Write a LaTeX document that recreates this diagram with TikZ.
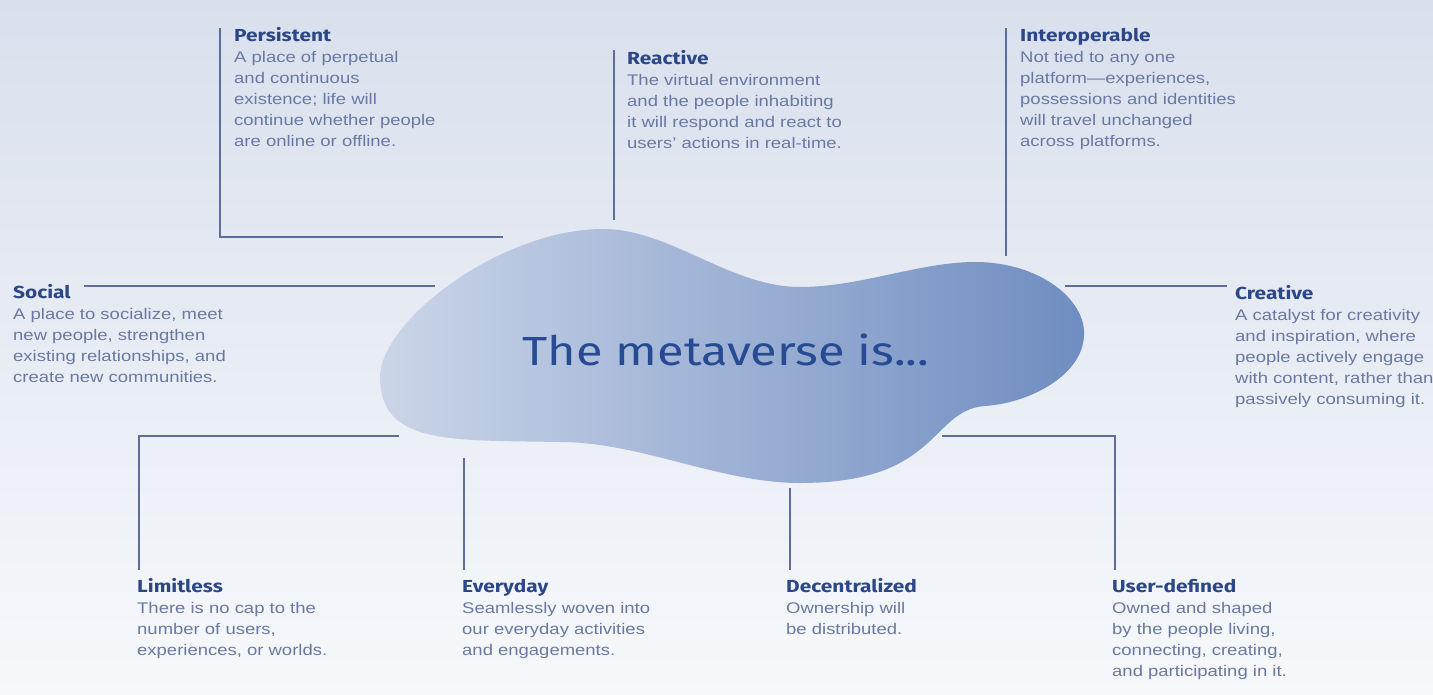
\documentclass[tikz,border=0pt]{standalone}
\usepackage{fontspec}
\setmainfont{Liberation Sans}[FakeStretch=1.2]
\newfontfamily\headfont{Fira Sans}[FakeStretch=1.2]
\usetikzlibrary{positioning}

\definecolor{bgtop}{HTML}{D9E0ED}
\definecolor{bgbot}{HTML}{F6F8FB}
\definecolor{blobleft}{HTML}{CBD5E8}
\definecolor{blobright}{HTML}{6F8DC1}
\definecolor{linecol}{HTML}{5D6E99}
\definecolor{headcol}{HTML}{2C4787}
\definecolor{bodycol}{HTML}{6A79A3}
\definecolor{titlecol}{HTML}{274B92}

\newcommand\hd[1]{{\rule{0pt}{14pt}\headfont\bfseries\fontsize{17.4}{21}\selectfont\color{headcol}#1}}

\tikzset{
	link/.style={draw=linecol, line width=1.8pt},
	item/.style={anchor=north west, inner sep=0pt, align=left, text=bodycol,
		font=\fontsize{15.4}{21}\selectfont},
}

\begin{document}
\begin{tikzpicture}[x=1pt, y=-1pt]
	\useasboundingbox (0,0) rectangle (1433,694);
	\shade[top color=bgtop, bottom color=bgbot] (0,0) rectangle (1433,694);
	\shade[left color=blobleft, right color=blobright]
		(380,378) .. controls (379,322) and (500,229) .. (603,229)
		.. controls (670,229) and (730,287) .. (800,287)
		.. controls (860,287) and (920,262) .. (975,262)
		.. controls (1040,262) and (1086,300) .. (1084,335)
		.. controls (1083,375) and (1030,403) .. (985,406)
		.. controls (930,410) and (940,483) .. (800,483)
		.. controls (720,483) and (640,442) .. (560,442)
		.. controls (450,440) and (381,445) .. (380,378) -- cycle;
	\node[font=\headfont\fontsize{40.6}{44}\selectfont, text=titlecol, anchor=base] (title) at (726,365) {The metaverse is...};

	\node[item] (persistent) at (234,27) {\hd{Persistent}\\A place of perpetual\\and continuous\\existence; life will\\continue whether people\\are online or offline.};
	\node[item] (reactive) at (627,50) {\hd{Reactive}\\The virtual environment\\and the people inhabiting\\it will respond and react to\\users' actions in real-time.};
	\node[item] (interop) at (1020,27) {\hd{Interoperable}\\Not tied to any one\\platform---experiences,\\possessions and identities\\will travel unchanged\\across platforms.};
	\node[item] (social) at (13,284) {\hd{Social}\\A place to socialize, meet\\new people, strengthen\\existing relationships, and\\create new communities.};
	\node[item] (creative) at (1235,285) {\hd{Creative}\\A catalyst for creativity\\and inspiration, where\\people actively engage\\with content, rather than\\passively consuming it.};
	\node[item] (limitless) at (137,578) {\hd{Limitless}\\There is no cap to the\\number of users,\\experiences, or worlds.};
	\node[item] (everyday) at (462,578) {\hd{Everyday}\\Seamlessly woven into\\our everyday activities\\and engagements.};
	\node[item] (decentral) at (786,578) {\hd{Decentralized}\\Ownership will\\be distributed.};
	\node[item] (userdef) at (1112,578) {\hd{User-defined}\\Owned and shaped\\by the people living,\\connecting, creating,\\and participating in it.};

	\coordinate (persistent-in) at (503,237);
	\coordinate (persistent-end) at (220,28);
	\coordinate (reactive-in) at (614,220);
	\coordinate (reactive-end) at (614,50);
	\coordinate (interop-in) at (1006,256);
	\coordinate (interop-end) at (1006,28);
	\coordinate (social-in) at (435,286);
	\coordinate (social-end) at (84,286);
	\coordinate (creative-in) at (1065,286);
	\coordinate (creative-end) at (1227,286);
	\coordinate (limitless-in) at (399,436);
	\coordinate (limitless-end) at (139,570);
	\coordinate (everyday-in) at (464,458);
	\coordinate (everyday-end) at (464,570);
	\coordinate (decentral-in) at (790,488);
	\coordinate (decentral-end) at (790,570);
	\coordinate (userdef-in) at (942,436);
	\coordinate (userdef-end) at (1115,570);

	\draw[link] (persistent-in) -| (persistent-end);
	\draw[link] (reactive-in) -- (reactive-end);
	\draw[link] (interop-in) -- (interop-end);
	\draw[link] (social-in) -- (social-end);
	\draw[link] (creative-in) -- (creative-end);
	\draw[link] (limitless-in) -| (limitless-end);
	\draw[link] (everyday-in) -- (everyday-end);
	\draw[link] (decentral-in) -- (decentral-end);
	\draw[link] (userdef-in) -| (userdef-end);
\end{tikzpicture}
\end{document}
